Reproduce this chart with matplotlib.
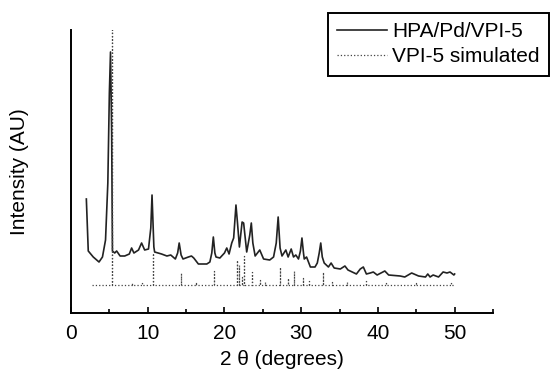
import numpy as np
import matplotlib
matplotlib.use('Agg')
import matplotlib.pyplot as plt

plt.rcParams['font.family'] = ['Liberation Sans', 'DejaVu Sans']
plt.rcParams['font.size'] = 15

# measured pattern HPA/Pd/VPI-5 (2theta, intensity)
meas_2theta = [2.0, 2.25, 2.9, 3.65, 4.1, 4.5, 4.8, 5.0, 5.15, 5.3, 5.4, 5.7, 5.95, 6.4, 7.0,
               7.6, 7.9, 8.2, 8.8, 9.2, 9.6, 10.1, 10.4, 10.56, 10.8, 10.9, 11.8, 12.5, 13.0,
               13.6, 13.9, 14.1, 14.35, 14.6, 15.3, 15.7, 16.0, 16.6, 17.7, 18.1, 18.35, 18.55,
               18.75, 18.9, 19.4, 20.0, 20.3, 20.6, 20.95, 21.2, 21.5, 21.7, 21.95, 22.3, 22.5,
               22.9, 23.3, 23.5, 23.7, 24.0, 24.3, 24.6, 25.1, 25.9, 26.4, 26.75, 27.0, 27.25,
               27.5, 28.0, 28.3, 28.7, 29.0, 29.3, 29.65, 29.9, 30.1, 30.3, 30.4, 30.7, 31.2,
               31.8, 32.1, 32.35, 32.55, 32.75, 33.0, 33.55, 33.9, 34.3, 35.1, 35.7, 36.1, 37.2,
               37.7, 38.1, 38.5, 39.0, 39.4, 39.9, 40.9, 41.4, 42.9, 43.5, 44.4, 45.3, 46.2,
               46.5, 46.8, 47.2, 47.9, 48.5, 49.0, 49.4, 49.9, 50.0]
meas_int = [114, 62, 56, 51, 56, 73, 130, 220, 261, 180, 62, 60, 62, 57, 57,
            59, 65, 60, 63, 70, 63, 64, 85, 118, 66, 61, 59, 57, 58,
            54, 60, 70, 58, 54, 56, 57, 55, 49, 49, 51, 60, 76,
            60, 56, 55, 60, 65, 59, 70, 75, 108, 90, 66, 91, 90,
            61, 78, 90, 70, 57, 60, 63, 54, 53, 56, 70, 96, 65,
            57, 63, 56, 64, 56, 58, 54, 62, 75, 60, 54, 56, 46,
            46, 50, 60, 70, 56, 50, 46, 50, 45, 44, 47, 43, 39,
            44, 46, 39, 40, 41, 38, 42, 38, 37, 36, 40, 37, 36,
            39, 36, 38, 36, 41, 40, 41, 38, 39]

# simulated VPI-5 reflections
sim_base = 28
sim_start, sim_end = 2.7, 50.0
sim_pos = [5.35, 8.0, 9.3, 10.7, 14.3, 16.3, 18.7, 21.7, 21.9, 22.25, 22.6, 23.55, 24.6,
           25.3, 27.25, 28.25, 29.0, 30.3, 31.0, 32.8, 34.0, 36.0, 38.4, 41.0, 45.0, 49.5]
sim_int = [300, 30, 30, 60, 40, 31, 42, 53, 48, 36, 57, 41, 33,
           31, 46, 35, 42, 35, 32, 41, 31, 31, 32, 30, 30, 30]

sx = [sim_start]
sy = [sim_base]
for p, h in zip(sim_pos, sim_int):
    sx += [p, p, p]
    sy += [sim_base, h, sim_base]
sx.append(sim_end)
sy.append(sim_base)

fig = plt.figure(figsize=(5.51, 3.72), dpi=100)
ax = fig.add_axes([71 / 551, 59 / 372, (493 - 71) / 551, (313 - 30) / 372])

ax.plot(meas_2theta, meas_int, color='#222222', lw=1.2, label='HPA/Pd/VPI-5')
ax.plot(sx, sy, color='#444444', lw=0.9, ls=':', label='VPI-5 simulated')

ax.set_xlim(0, 55)
ax.set_ylim(0, 283)
ax.set_xticks([0, 10, 20, 30, 40, 50])
ax.set_xticks([5, 15, 25, 35, 45, 55], minor=True)
ax.tick_params(axis='x', which='major', direction='in', length=4, width=1.2, pad=8)
ax.tick_params(axis='x', which='minor', direction='in', length=3, width=1.2)
ax.set_yticks([])
for s in ['top', 'right']:
    ax.spines[s].set_visible(False)
for s in ['left', 'bottom']:
    ax.spines[s].set_linewidth(1.4)

ax.set_xlabel('2 θ (degrees)', labelpad=5)
ax.set_ylabel('Intensity (AU)', labelpad=30)

leg = fig.legend(loc='upper left', bbox_to_anchor=(327.5 / 551, 1 - 12.5 / 372),
                 handlelength=2.4, handletextpad=0.25, borderpad=0.45, labelspacing=0.3,
                 borderaxespad=0, fancybox=False, framealpha=1, edgecolor='black')
leg.get_frame().set_linewidth(1.4)

fig.savefig('out.png', dpi=100)
